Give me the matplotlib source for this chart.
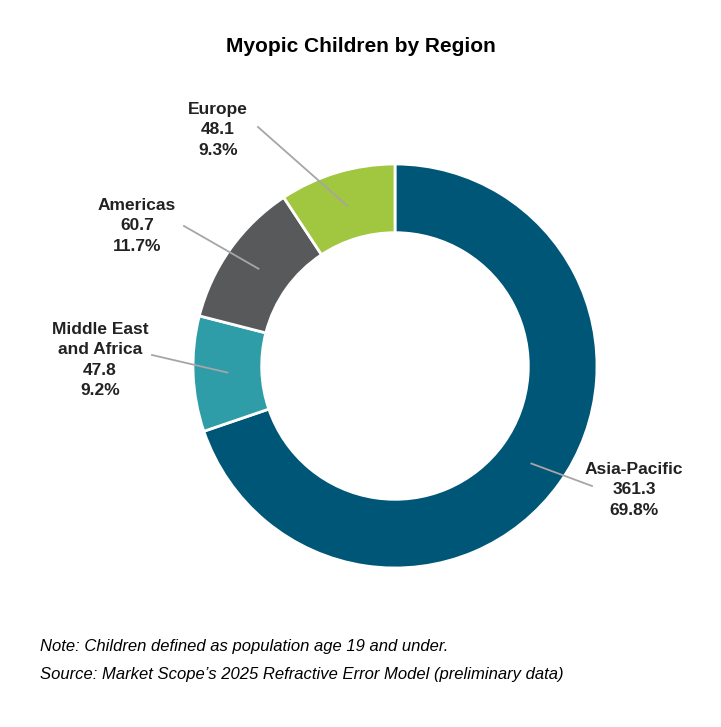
import matplotlib.pyplot as plt
import numpy as np

regions = ["Asia-Pacific", "Middle East\nand Africa", "Americas", "Europe"]
values = [361.3, 47.8, 60.7, 48.1]
shares = ["69.8%", "9.2%", "11.7%", "9.3%"]
colors = ["#005677", "#2E9DA8", "#58595B", "#A1C63F"]

# label anchor (pixels) and line start (pixels)
label_px = [(634, 490), (100, 360), (137, 226), (218, 130)]
line_px = [(592, 486), (152, 355), (184, 226), (258, 127)]

W, H = 721, 727
fig = plt.figure(figsize=(W / 100, H / 100), dpi=100)
cx, cy, R = 395, 366, 202
ax = fig.add_axes([(cx - R) / W, (H - cy - R) / H, 2 * R / W, 2 * R / H])
wedges, _ = ax.pie(values, colors=colors, startangle=90, counterclock=False,
                   radius=1, wedgeprops=dict(width=0.34, edgecolor="white", linewidth=2))
ax.set_xlim(-1, 1)
ax.set_ylim(-1, 1)
ax.axis("off")

for w, name, v, s, lp, sp in zip(wedges, regions, values, shares, label_px, line_px):
    ang = np.deg2rad((w.theta1 + w.theta2) / 2)
    px = cx + 0.83 * R * np.cos(ang)
    py = cy - 0.83 * R * np.sin(ang)
    fig.add_artist(plt.Line2D([sp[0] / W, px / W], [1 - sp[1] / H, 1 - py / H],
                              color="#A6A6A6", lw=1.3, transform=fig.transFigure))
    fig.text(lp[0] / W, 1 - lp[1] / H, f"{name}\n{v}\n{s}", ha="center", va="center",
             fontsize=12.5, fontweight="bold", family="Liberation Sans", linespacing=1.45,
             color="#222222")

fig.text(0.5, 1 - 46 / H, "Myopic Children by Region", ha="center", va="center",
         fontsize=15, fontweight="bold", family="Liberation Sans")
fig.text(40 / W, 1 - 646 / H, "Note: Children defined as population age 19 and under.",
         fontsize=12, style="italic", family="Liberation Sans", va="center")
fig.text(40 / W, 1 - 674 / H, "Source: Market Scope\u2019s 2025 Refractive Error Model (preliminary data)",
         fontsize=12, style="italic", family="Liberation Sans", va="center")

fig.savefig("out.png", dpi=100, facecolor="white")
